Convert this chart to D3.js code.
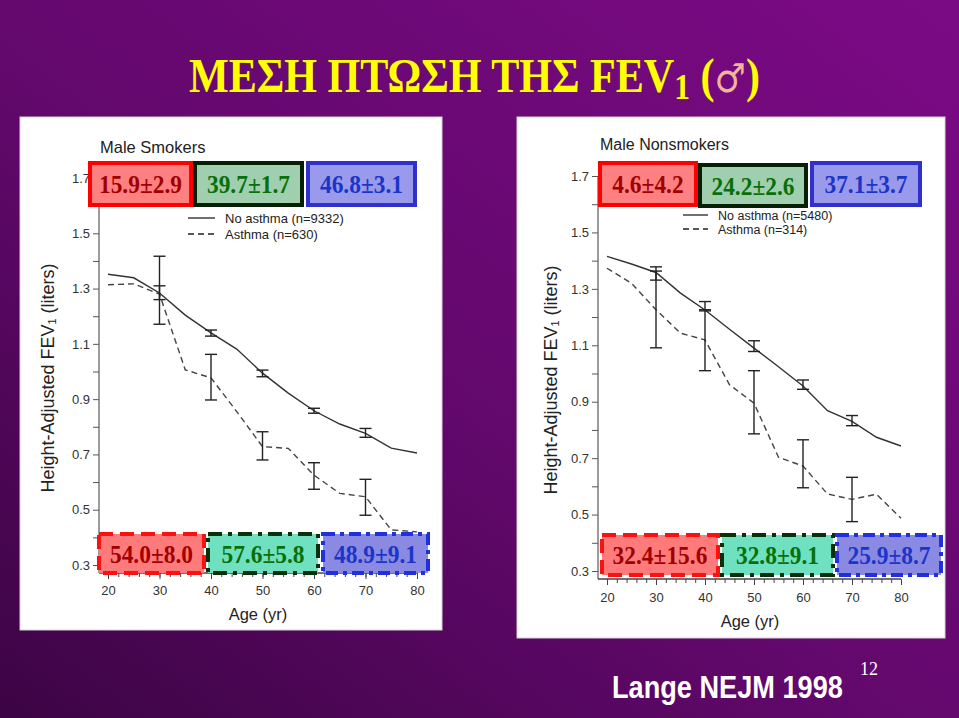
<!DOCTYPE html>
<html><head><meta charset="utf-8">
<script src="https://cdn.jsdelivr.net/npm/d3@7"></script>
<style>html,body{margin:0;padding:0;background:#5a0862;}svg{display:block;}</style>
</head><body>
<svg id="c" width="959" height="718"></svg>
<script>
// ---------------- DATA ----------------
const ages = [20,25,30,35,40,45,50,55,60,65,70,75,80];
const barAges = [30,40,50,60,70];

// Male smokers
const smokersNoAsthma = [1.352,1.339,1.284,1.204,1.140,1.081,0.994,0.922,0.858,0.810,0.776,0.723,0.705];
const smokersAsthma   = [1.314,1.317,1.280,1.006,0.977,0.855,0.728,0.722,0.625,0.559,0.547,0.427,0.420];
const smokersNoAsthmaLo = [1.260,1.128,0.981,0.849,0.762];
const smokersNoAsthmaHi = [1.310,1.150,1.005,0.867,0.794];
const smokersAsthmaLo   = [1.171,0.897,0.680,0.574,0.480];
const smokersAsthmaHi   = [1.417,1.062,0.782,0.670,0.610];

// Male nonsmokers
const nonsmokersNoAsthma = [1.415,1.388,1.358,1.285,1.225,1.157,1.090,1.024,0.956,0.868,0.830,0.774,0.743];
const nonsmokersAsthma   = [1.373,1.320,1.226,1.143,1.119,0.960,0.895,0.703,0.672,0.573,0.554,0.572,0.487];
const nonsmokersNoAsthmaLo = [1.331,1.226,1.078,0.944,0.815];
const nonsmokersNoAsthmaHi = [1.378,1.255,1.116,0.977,0.851];
const nonsmokersAsthmaLo   = [1.091,1.010,0.786,0.595,0.475];
const nonsmokersAsthmaHi   = [1.363,1.222,1.010,0.765,0.632];

// Annotation boxes
const smokersTopLabels = ["15.9±2.9","39.7±1.7","46.8±3.1"];
const smokersBottomLabels = ["54.0±8.0","57.6±5.8","48.9±9.1"];
const nonsmokersTopLabels = ["4.6±4.2","24.2±2.6","37.1±3.7"];
const nonsmokersBottomLabels = ["32.4±15.6","32.8±9.1","25.9±8.7"];

const yTickValues = [0.3,0.5,0.7,0.9,1.1,1.3,1.5,1.7];
const yMinorValues = [0.4,0.6,0.8,1.0,1.2,1.4,1.6];
const xTickValues = [20,30,40,50,60,70,80];
const xMinorValues = d3.range(20,81,2);

const titleMain = "ΜΕΣΗ ΠΤΩΣΗ ΤΗΣ FEV";
const titleSub = "1";
const yAxisTitle = "Height-Adjusted FEV";
const xAxisTitle = "Age (yr)";
const sourceText = "Lange NEJM 1998";
const pageNumber = "12";

// ---------------- STYLE / LAYOUT ----------------
const topStyles = [
  {fill:"#ff8080", stroke:"#ff0000", text:"#a00000", dash:null},
  {fill:"#9fcfae", stroke:"#062006", text:"#087008", dash:null},
  {fill:"#9a9aec", stroke:"#3030cc", text:"#1b35c8", dash:null}
];
const bottomStyles = [
  {fill:"#ff7b7b", stroke:"#ff1010", text:"#a00000", dash:"14,7"},
  {fill:"#6fe0c0", stroke:"#0a300a", text:"#087008", dash:"14,6,4,6"},
  {fill:"#8a8ae2", stroke:"#2030dd", text:"#1b35c8", dash:"12,5,4,5"}
];

const panels = [
  {
    title:"Male Smokers", titleX:100, titleY:153, titleSize:16.5,
    rect:[20,117,422,513],
    xRange:[108,417], yRange:[565,178], axisX:99, axisY:573,
    noAsthma:smokersNoAsthma, asthma:smokersAsthma,
    naLo:smokersNoAsthmaLo, naHi:smokersNoAsthmaHi, aLo:smokersAsthmaLo, aHi:smokersAsthmaHi,
    legend:{x1:188,x2:215,y1:218,y2:234,tx:225,size:13, n1:"No asthma (n=9332)", n2:"Asthma (n=630)"},
    yTitleX:49, yTitleY:378, xTitleX:258, xTitleY:620, xLabelY:595,
    top:{labels:smokersTopLabels, xs:[[88,193],[193,304],[306,417]], ys:[[161,207],[161,207],[161,207]]},
    bottom:{labels:smokersBottomLabels, xs:[[97,206],[206,320],[321,430]], ys:[[532,575],[532,575],[532,575]]}
  },
  {
    title:"Male Nonsmokers", titleX:600, titleY:150, titleSize:16,
    rect:[517,117,428,521],
    xRange:[607,901], yRange:[571,176], axisX:598, axisY:579,
    noAsthma:nonsmokersNoAsthma, asthma:nonsmokersAsthma,
    naLo:nonsmokersNoAsthmaLo, naHi:nonsmokersNoAsthmaHi, aLo:nonsmokersAsthmaLo, aHi:nonsmokersAsthmaHi,
    legend:{x1:683,x2:708,y1:215,y2:229,tx:718,size:12.5, n1:"No asthma (n=5480)", n2:"Asthma (n=314)"},
    yTitleX:552, yTitleY:380, xTitleX:750, xTitleY:627, xLabelY:602,
    top:{labels:nonsmokersTopLabels, xs:[[598,698],[698,808],[810,922]], ys:[[161,207],[163,208],[161,207]]},
    bottom:{labels:nonsmokersBottomLabels, xs:[[600,720],[720,835],[835,943]], ys:[[533,577],[533,577],[533,577]]}
  }
];

// ---------------- DRAW ----------------
const svg = d3.select("#c");
const defs = svg.append("defs");
const grad = defs.append("linearGradient").attr("id","bg")
  .attr("x1","100%").attr("y1","0%").attr("x2","0%").attr("y2","100%");
grad.append("stop").attr("offset","0%").attr("stop-color","#7c0a86");
grad.append("stop").attr("offset","55%").attr("stop-color","#62086c");
grad.append("stop").attr("offset","100%").attr("stop-color","#3c0444");
svg.append("rect").attr("width",959).attr("height",718).attr("fill","url(#bg)");

// Title
const title = svg.append("text")
  .attr("font-family","'Liberation Serif','Times New Roman',serif")
  .attr("font-weight","bold").attr("font-size",48).attr("fill","#ffff00");
title.append("tspan").text(titleMain);
title.append("tspan").attr("font-size",36).attr("dy",7).text(titleSub);
title.append("tspan").attr("dy",-7).text(" (");
title.append("tspan").attr("font-family","'DejaVu Sans',sans-serif").attr("font-weight","normal")
  .attr("font-size",40).attr("fill","#f0b49a").text("♂");
title.append("tspan").text(")");
const tb = title.node().getBBox();
const sx = 571 / tb.width;
title.attr("transform",`translate(${189 - tb.x*sx},92) scale(${sx},1)`);

function drawPanel(p){
  const g = svg.append("g");
  g.append("rect").attr("x",p.rect[0]).attr("y",p.rect[1]).attr("width",p.rect[2]).attr("height",p.rect[3])
    .attr("fill","#ffffff").attr("stroke","#d8d0d8").attr("stroke-width",1);

  const x = d3.scaleLinear().domain([20,80]).range(p.xRange);
  const y = d3.scaleLinear().domain([0.3,1.7]).range(p.yRange);

  // panel title
  g.append("text").attr("x",p.titleX).attr("y",p.titleY).attr("font-family","'Liberation Sans',Arial,sans-serif")
    .attr("font-size",p.titleSize).attr("fill","#222").text(p.title);

  // y axis
  const yAxis = d3.axisLeft(y).tickValues(yTickValues).tickSize(6).tickPadding(3).tickFormat(d3.format(".1f"));
  const ya = g.append("g").attr("transform",`translate(${p.axisX},0)`).call(yAxis);
  ya.select(".domain").remove();
  ya.append("line").attr("x1",0).attr("x2",0).attr("y1",y(1.7)).attr("y2",p.axisY).attr("stroke","#666").attr("stroke-width",1.3);
  ya.selectAll(".tick line").attr("stroke","#555");
  ya.selectAll(".tick text").attr("font-family","'Liberation Sans',Arial,sans-serif").attr("font-size",13).attr("fill","#333");
  const yMinor = d3.axisLeft(y).tickValues(yMinorValues).tickSize(6).tickFormat("");
  const ym = g.append("g").attr("transform",`translate(${p.axisX},0)`).call(yMinor);
  ym.select(".domain").remove();
  ym.selectAll(".tick line").attr("stroke","#555");

  // x axis
  const xAxis = d3.axisBottom(x).tickValues(xTickValues).tickSize(6).tickPadding(4);
  const xa = g.append("g").attr("transform",`translate(0,${p.axisY})`).call(xAxis);
  xa.select(".domain").remove();
  xa.append("line").attr("x1",p.axisX).attr("x2",x(80)).attr("y1",0).attr("y2",0).attr("stroke","#444").attr("stroke-width",1.3);
  xa.selectAll(".tick line").attr("stroke","#444");
  xa.selectAll(".tick text").attr("font-family","'Liberation Sans',Arial,sans-serif").attr("font-size",13).attr("fill","#333")
    .attr("y", p.xLabelY - p.axisY).attr("dy",0);
  const xMinor = d3.axisBottom(x).tickValues(xMinorValues).tickSize(4).tickFormat("");
  const xm = g.append("g").attr("transform",`translate(0,${p.axisY})`).call(xMinor);
  xm.select(".domain").remove();
  xm.selectAll(".tick line").attr("stroke","#444");

  // axis titles
  const yt = g.append("text").attr("transform",`translate(${p.yTitleX},${p.yTitleY}) rotate(-90)`)
    .attr("text-anchor","middle").attr("dominant-baseline","middle")
    .attr("font-family","'Liberation Sans',Arial,sans-serif").attr("font-size",18).attr("fill","#222");
  yt.append("tspan").text(yAxisTitle);
  yt.append("tspan").attr("font-size",11).attr("dy",4).text("1");
  yt.append("tspan").attr("dy",-4).text(" (liters)");
  g.append("text").attr("x",p.xTitleX).attr("y",p.xTitleY).attr("text-anchor","middle")
    .attr("font-family","'Liberation Sans',Arial,sans-serif").attr("font-size",16.5).attr("fill","#222").text(xAxisTitle);

  // lines
  const line = d3.line().x((d,i)=>x(ages[i])).y(d=>y(d));
  g.append("path").attr("d",line(p.noAsthma)).attr("fill","none").attr("stroke","#333").attr("stroke-width",1.4);
  g.append("path").attr("d",line(p.asthma)).attr("fill","none").attr("stroke","#444").attr("stroke-width",1.4)
    .attr("stroke-dasharray","6,4");

  // error bars
  function bars(lo,hi){
    const eb = g.append("g").attr("stroke","#222").attr("stroke-width",1.4);
    barAges.forEach((a,i)=>{
      const cx = x(a);
      eb.append("line").attr("x1",cx).attr("x2",cx).attr("y1",y(lo[i])).attr("y2",y(hi[i]));
      eb.append("line").attr("x1",cx-6).attr("x2",cx+6).attr("y1",y(lo[i])).attr("y2",y(lo[i]));
      eb.append("line").attr("x1",cx-6).attr("x2",cx+6).attr("y1",y(hi[i])).attr("y2",y(hi[i]));
    });
  }
  bars(p.aLo,p.aHi);
  bars(p.naLo,p.naHi);

  // legend
  const L = p.legend;
  g.append("line").attr("x1",L.x1).attr("x2",L.x2).attr("y1",L.y1).attr("y2",L.y1).attr("stroke","#222").attr("stroke-width",1.3);
  g.append("line").attr("x1",L.x1).attr("x2",L.x2).attr("y1",L.y2).attr("y2",L.y2).attr("stroke","#222").attr("stroke-width",1.3).attr("stroke-dasharray","6,4");
  g.append("text").attr("x",L.tx).attr("y",L.y1+4.5).attr("font-family","'Liberation Sans',Arial,sans-serif").attr("font-size",L.size).attr("fill","#222").text(L.n1);
  g.append("text").attr("x",L.tx).attr("y",L.y2+4.5).attr("font-family","'Liberation Sans',Arial,sans-serif").attr("font-size",L.size).attr("fill","#222").text(L.n2);

  // boxes
  function boxes(set, styles, sw, fontSize){
    set.labels.forEach((lab,i)=>{
      const st = styles[i];
      const [x0,x1] = set.xs[i], [y0,y1] = set.ys[i];
      g.append("rect").attr("x",x0+sw/2).attr("y",y0+sw/2).attr("width",x1-x0-sw).attr("height",y1-y0-sw)
        .attr("fill",st.fill).attr("stroke",st.stroke).attr("stroke-width",sw)
        .attr("stroke-dasharray",st.dash);
      const t = g.append("text").attr("x",(x0+x1)/2).attr("y",(y0+y1)/2+9).attr("text-anchor","middle")
        .attr("font-family","'Liberation Serif','Times New Roman',serif").attr("font-weight","bold")
        .attr("font-size",fontSize).attr("fill",st.text).text(lab);
      const w = t.node().getComputedTextLength();
      t.attr("textLength",w*0.9).attr("lengthAdjust","spacingAndGlyphs");
    });
  }
  boxes(p.top, topStyles, 4, 26);
  boxes(p.bottom, bottomStyles, 4, 26);
}
panels.forEach(drawPanel);

// source + page number
const src = svg.append("text").attr("font-family","'Liberation Sans',Arial,sans-serif")
  .attr("font-weight","bold").attr("font-size",31).attr("fill","#ffffff").text(sourceText);
const sw0 = src.node().getComputedTextLength();
src.attr("transform",`translate(612,698) scale(${231/sw0},1)`);
svg.append("text").attr("x",860).attr("y",675).attr("font-family","'Liberation Serif','Times New Roman',serif")
  .attr("font-size",18).attr("fill","#ffffff").text(pageNumber);
</script>
</body></html>
